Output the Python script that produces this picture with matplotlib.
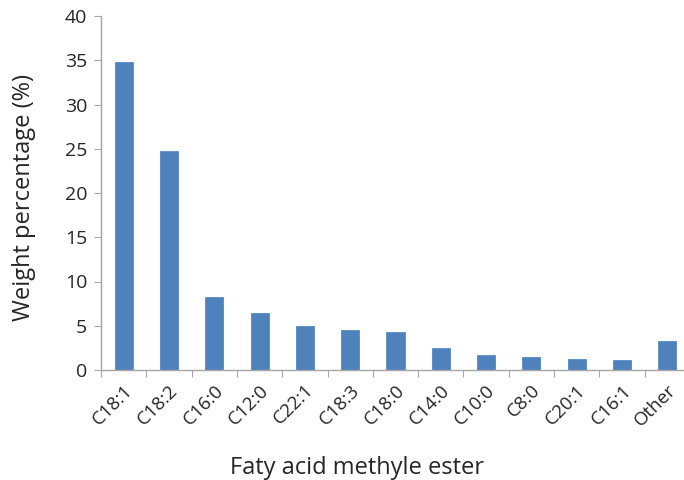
import matplotlib
matplotlib.use("Agg")
import matplotlib.pyplot as plt

categories = ["C18:1", "C18:2", "C16:0", "C12:0", "C22:1", "C18:3", "C18:0",
              "C14:0", "C10:0", "C8:0", "C20:1", "C16:1", "Other"]
values = [34.8, 24.7, 8.2, 6.45, 5.0, 4.5, 4.35, 2.5, 1.75, 1.45, 1.25, 1.15, 3.3]
yticks = [0, 5, 10, 15, 20, 25, 30, 35, 40]

plt.rcParams['font.family'] = ['Open Sans', 'DejaVu Sans']

fig = plt.figure(figsize=(6.84, 4.8), dpi=100)
ax = fig.add_axes([101/684, 110/480, 589/684, 354/480])
x = list(range(len(categories)))
ax.bar(x, values, width=0.4, color="#4F81BD", edgecolor="#4A7EBB", linewidth=0.5)
ax.set_xlim(-0.5, len(categories) - 0.5)
ax.set_ylim(0, 40)
ax.set_yticks(yticks)
ax.set_yticklabels([str(t) for t in yticks], fontsize=14, color="#262626")
ax.set_xticks([i - 0.5 for i in range(len(categories) + 1)], minor=False)
ax.set_xticklabels([])
ax.set_xticks(x, minor=True)
ax.set_xticklabels(categories, minor=True, rotation=45, ha="right", va="top",
                   rotation_mode="anchor", fontsize=13.5, color="#262626")
ax.tick_params(axis='x', which='minor', length=0, pad=8)
ax.tick_params(axis='x', which='major', length=5, color="#A6A6A6", direction='out')
ax.tick_params(axis='y', length=5, color="#A6A6A6", direction='out', pad=5)
for s in ["top", "right"]:
    ax.spines[s].set_visible(False)
for s in ["left", "bottom"]:
    ax.spines[s].set_color("#A6A6A6")
    ax.spines[s].set_linewidth(1.0)
ax.set_ylabel("Weight percentage (%)", fontsize=17, color="#262626", va="center")
ax.yaxis.set_label_coords(-0.131, 0.486)
ax.set_xlabel("Faty acid methyle ester", fontsize=17, color="#262626", va="center")
ax.xaxis.set_label_coords(0.435, -0.277)
fig.savefig("out.png", dpi=100)
